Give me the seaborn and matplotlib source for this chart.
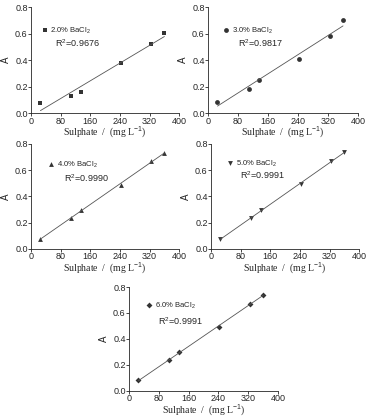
import numpy as np
import pandas as pd
import matplotlib.pyplot as plt
import seaborn as sns

# sulphate concentration (mg/L) and absorbance for each BaCl2 level
sulphate = [25, 108, 135, 242, 325, 360]
a_20 = [0.073, 0.128, 0.158, 0.375, 0.523, 0.601]
a_30 = [0.083, 0.184, 0.25, 0.41, 0.58, 0.70]
a_40 = [0.076, 0.233, 0.296, 0.489, 0.668, 0.729]
a_50 = [0.078, 0.232, 0.292, 0.492, 0.668, 0.737]
a_60 = [0.082, 0.238, 0.298, 0.492, 0.672, 0.737]

labels = ['2.0% BaCl$_2$', '3.0% BaCl$_2$', '4.0% BaCl$_2$', '5.0% BaCl$_2$', '6.0% BaCl$_2$']
r2_text = ['R$^2$=0.9676', 'R$^2$=0.9817', 'R$^2$=0.9990', 'R$^2$=0.9991', 'R$^2$=0.9991']
markers = ['s', 'o', '^', 'v', 'D']
series = [a_20, a_30, a_40, a_50, a_60]

sns.set_style('ticks')
plt.rcParams['font.family'] = ['Liberation Sans', 'DejaVu Sans']
plt.rcParams['mathtext.fontset'] = 'custom'
plt.rcParams['mathtext.rm'] = 'Liberation Sans'

fig = plt.figure(figsize=(3.71, 4.19), dpi=100)
positions = [
    [0.084, 0.730, 0.399, 0.253],
    [0.561, 0.730, 0.404, 0.253],
    [0.084, 0.406, 0.399, 0.251],
    [0.569, 0.406, 0.399, 0.251],
    [0.348, 0.067, 0.401, 0.248],
]
leg_pos = [(0.07, 0.78), (0.10, 0.78), (0.115, 0.80), (0.11, 0.81), (0.115, 0.82)]
txt_pos = [(0.16, 0.66), (0.2, 0.66), (0.22, 0.67), (0.196, 0.70), (0.195, 0.67)]

for i in range(5):
    ax = fig.add_axes(positions[i])
    df = pd.DataFrame({'x': sulphate, 'y': series[i]})
    ms = 12 if markers[i] != 'D' else 9
    sns.regplot(data=df, x='x', y='y', ax=ax, ci=None, marker=markers[i],
                color='black', label=labels[i],
                scatter_kws={'s': ms, 'linewidths': 0},
                line_kws={'color': '#555555', 'lw': 0.6})
    ax.set_xlim(0, 400)
    ax.set_ylim(0, 0.8)
    ax.set_xticks([0, 80, 160, 240, 320, 400])
    ax.set_yticks([0.0, 0.2, 0.4, 0.6, 0.8])
    ax.yaxis.set_major_formatter(plt.FormatStrFormatter('%.1f'))
    ax.tick_params(labelsize=6.5, length=2, width=0.6, pad=0.5)
    for s in ['left', 'bottom']:
        ax.spines[s].set_linewidth(0.6)
    sns.despine(ax=ax)
    ax.set_xlabel('Sulphate  /  (mg L$^{-1}$)', fontsize=7, family='Liberation Serif', labelpad=-0.5)
    ax.set_ylabel('A', fontsize=7, labelpad=3)
    ax.legend(loc='center left', bbox_to_anchor=leg_pos[i], frameon=False, fontsize=5.5,
              handlelength=0.8, handletextpad=0.3, borderaxespad=0, borderpad=0)
    ax.text(txt_pos[i][0], txt_pos[i][1], r2_text[i], transform=ax.transAxes,
            fontsize=6.5, va='center')

plt.savefig('out.png', dpi=100)
